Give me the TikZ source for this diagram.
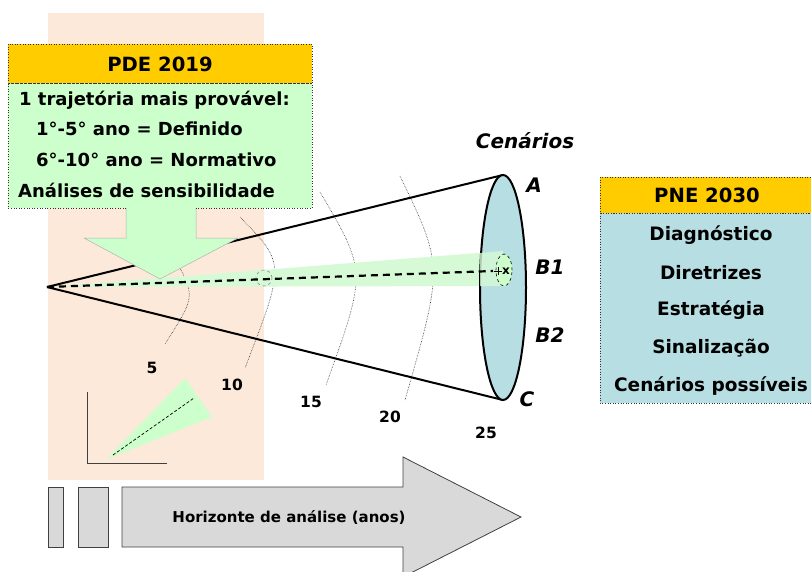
\documentclass[tikz,border=0pt]{standalone}
\usepackage{fontspec}
\setmainfont{DejaVu Sans}
\usetikzlibrary{positioning}

\definecolor{peach}{HTML}{FDE9D9}
\definecolor{gold}{HTML}{FFCC00}
\definecolor{mint}{HTML}{CCFFCC}
\definecolor{beamgreen}{HTML}{D6FAD6}
\definecolor{lblue}{HTML}{B7DEE3}
\definecolor{lgray}{HTML}{D9D9D9}

\begin{document}
\begin{tikzpicture}[x=1pt,y=-1pt,
  boxtext/.style={font=\bfseries\fontsize{18}{21}\selectfont, inner sep=0pt},
  listtext/.style={font=\bfseries\fontsize{18.5}{21}\selectfont, inner sep=0pt},
  headtext/.style={font=\bfseries\fontsize{19.6}{22}\selectfont, inner sep=0pt},
  yeartext/.style={font=\bfseries\fontsize{15.5}{18}\selectfont, inner sep=0pt},
  scentext/.style={font=\bfseries\itshape\fontsize{20}{22}\selectfont, inner sep=0pt},
  yeararc/.style={densely dotted, line width=0.6pt, black!80},
  cone/.style={line width=2pt}]

\useasboundingbox (0,0) rectangle (811,571);

% background of the PDE period
\fill[peach] (48,13) rectangle (264,480);

% small chart
\draw[black!75, line width=0.8pt] (87,392) -- (87,463) -- (167,463);
\fill[mint] (107,459) -- (185,378) -- (212,417) -- cycle;
\draw[densely dashed, line width=0.7pt] (113,455) -- (194,398);

% points of the cone
\coordinate (apex) at (47,287);
\coordinate (A) at (503,175);
\coordinate (C) at (503,400);
\coordinate (ctr) at (504,270);

% years
\draw[yeararc] (177,262) .. controls (195,297) .. (165,344);
\draw[yeararc] (240,217) .. controls (285.5,263.5) .. (245,368);
\draw[yeararc] (320,192) .. controls (367,271.5) .. (326,385);
\draw[yeararc] (400,176) .. controls (443.5,266) .. (405,400);

% most likely path
\fill[beamgreen] (apex) -- (503,251) -- (503,286) -- cycle;

% cone
\draw[cone] (apex) -- (A);
\draw[cone] (apex) -- (C);
\filldraw[cone, fill=lblue] (503,287.5) ellipse [x radius=23pt, y radius=112.5pt];
\fill[beamgreen, opacity=0.8] (480,253) -- (503,251) -- (503,286) -- (480,286) -- cycle;

\draw[dashed, line width=0.6pt, fill=mint] (ctr) ellipse [x radius=8pt, y radius=16pt];
\draw[dashed, line width=0.6pt, draw=black!45, fill=beamgreen] (264,278) circle [radius=8pt];
\draw[cone, line width=2.2pt, dash pattern=on 7pt off 5pt] (apex) -- (493,271);
\draw[line width=0.9pt] (494,271) -- (502,271) (498,267) -- (498,275);
\node[font=\bfseries\fontsize{12}{14}\selectfont, inner sep=0pt] (xmark) at (506,271) {x};

% PDE 2019
\fill[mint] (8,83) -- (312,83) -- (312,208) -- (196,208) -- (196,238) -- (238,238)
  -- (160,279) -- (84,238) -- (126,238) -- (126,208) -- (8,208) -- cycle;
\draw[black!30, line width=0.5pt] (126,208) -- (126,238) -- (84,238) -- (160,279)
  -- (238,238) -- (196,238) -- (196,208);
\draw[dotted, black!80, line width=0.6pt] (126,208) -- (8,208) -- (8,83) -- (312,83)
  -- (312,208) -- (196,208);
\filldraw[fill=gold, draw=black!80, dotted, line width=0.6pt] (8,44) rectangle (312,83);
\node[headtext] (pde) at (160,64) {PDE 2019};
\node[boxtext, anchor=west] (pde1) at (19,100) {1 trajetória mais provável:};
\node[boxtext, anchor=west] (pde2) at (36,129) {1°-5° ano = Definido};
\node[boxtext, anchor=west] (pde3) at (36,160) {6°-10° ano = Normativo};
\node[boxtext, anchor=west] (pde4) at (18,190) {Análises de sensibilidade};

% PNE 2030
\filldraw[fill=lblue, draw=black!80, dotted, line width=0.6pt] (600,213) rectangle (811,403);
\filldraw[fill=gold, draw=black!80, dotted, line width=0.6pt] (600,177) rectangle (811,213);
\node[headtext] (pne) at (707,195) {PNE 2030};
\node[listtext] (pne1) at (711,235) {Diagnóstico};
\node[listtext] (pne2) at (711,273) {Diretrizes};
\node[listtext] (pne3) at (711,310) {Estratégia};
\node[listtext] (pne4) at (711,348) {Sinalização};
\node[listtext] (pne5) at (711,386) {Cenários possíveis};

% labels
\node[scentext] (scen) at (525,141) {Cenários};
\node[scentext] (la) at (534,185) {A};
\node[scentext] (lb1) at (550,267) {B1};
\node[scentext] (lb2) at (550,335) {B2};
\node[scentext] (lc) at (527,399) {C};

\node[yeartext] (y5) at (152,368) {5};
\node[yeartext] (y10) at (232,385) {10};
\node[yeartext] (y15) at (311,402) {15};
\node[yeartext] (y20) at (390,417) {20};
\node[yeartext] (y25) at (486,433) {25};

% time axis
\begin{scope}[fill=lgray, draw=black!75, line width=0.8pt]
\filldraw (48,487) rectangle (63,547);
\filldraw (78,487) rectangle (108,547);
\filldraw (122,487) -- (403,487) -- (403,457) -- (521,517) -- (403,577) -- (403,547)
  -- (122,547) -- cycle;
\end{scope}
\node[font=\bfseries\fontsize{15}{18}\selectfont, inner sep=0pt] (horiz) at (289,517)
  {Horizonte de análise (anos)};

\end{tikzpicture}
\end{document}
